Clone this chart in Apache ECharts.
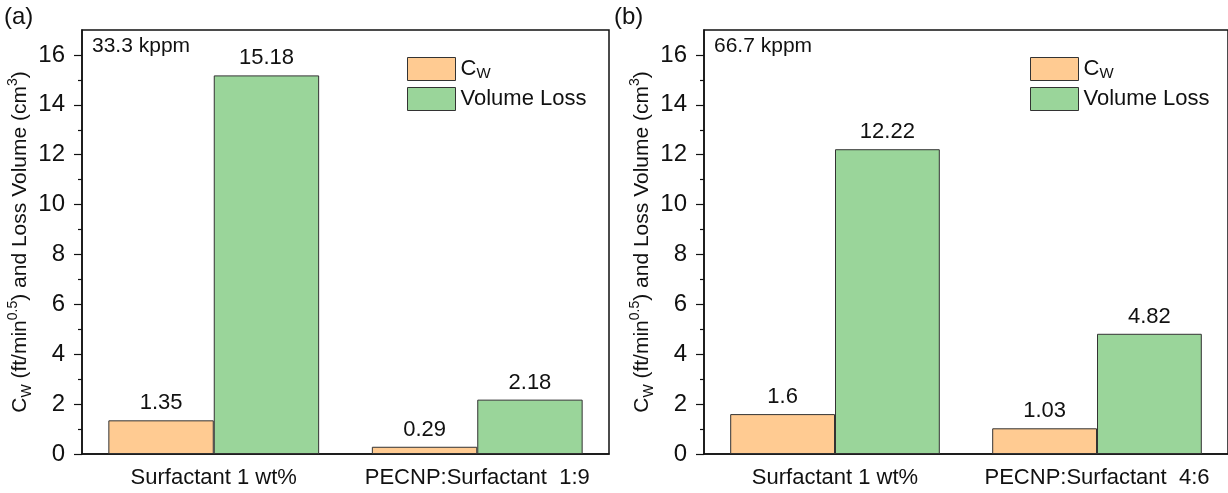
<!DOCTYPE html>
<html>
<head>
<meta charset="utf-8">
<script src="https://cdn.jsdelivr.net/npm/echarts@6/dist/echarts.min.js"></script>
<style>
  html, body { margin: 0; padding: 0; background: #fff; }
  #chart { width: 1228px; height: 493px; }
</style>
</head>
<body>
<div id="chart"></div>
<script>
// Categories and values for the two panels
const categoriesA = ['Surfactant 1 wt%', 'PECNP:Surfactant  1:9'];
const categoriesB = ['Surfactant 1 wt%', 'PECNP:Surfactant  4:6'];
const cwA = [1.35, 0.29];
const lossA = [15.18, 2.18];
const cwB = [1.6, 1.03];
const lossB = [12.22, 4.82];
const majorTicks = [0, 2, 4, 6, 8, 10, 12, 14, 16];
const minorTicks = [1, 3, 5, 7, 9, 11, 13, 15];
const panelNotes = ['33.3 kppm', '66.7 kppm'];
const panelTags = ['(a)', '(b)'];

const FONT = "'Liberation Sans', Arial, sans-serif";
const ORANGE = '#FFCB92';
const GREEN = '#9AD59A';
const EDGE = '#333';
const INK = '#111';

const chart = echarts.init(document.getElementById('chart'));

const grids = [
  { left: 82, top: 30, width: 527, height: 424 },
  { left: 704, top: 30, width: 527, height: 424 }
];

const nameRich = {
  n: { fontSize: 21, fontFamily: FONT, color: INK, lineHeight: 28, verticalAlign: 'middle' },
  sub: { fontSize: 14, fontFamily: FONT, color: INK, lineHeight: 28, verticalAlign: 'bottom' },
  sup: { fontSize: 14, fontFamily: FONT, color: INK, lineHeight: 28, verticalAlign: 'top' }
};

function xAxisFor(i, cats) {
  return {
    type: 'category', gridIndex: i, data: cats,
    axisLine: { lineStyle: { color: INK, width: 1.5 } },
    axisTick: { show: false },
    axisLabel: { interval: 0, fontSize: 22, fontFamily: FONT, color: INK, margin: 13 }
  };
}

function yAxesFor(i) {
  return [
    {
      type: 'value', gridIndex: i, min: 0, max: 17, position: 'left',
      name: '{n|C}{sub|W}{n| (ft/min}{sup|0.5}{n|) and Loss Volume (cm}{sup|3}{n|)}',
      nameLocation: 'middle', nameRotate: 90, nameGap: 45,
      nameTextStyle: { rich: nameRich },
      axisLine: { show: true, lineStyle: { color: INK, width: 1.5 } },
      axisTick: { show: true, length: 8, customValues: majorTicks, lineStyle: { color: INK, width: 1.2 } },
      axisLabel: { fontSize: 24, fontFamily: FONT, color: INK, margin: 17, customValues: majorTicks },
      splitLine: { show: false }
    },
    {
      type: 'value', gridIndex: i, min: 0, max: 17, position: 'left', offset: 0,
      axisLine: { show: false },
      axisTick: { show: true, length: 4, customValues: minorTicks, lineStyle: { color: INK, width: 1.2 } },
      axisLabel: { show: false },
      splitLine: { show: false }
    }
  ];
}

function barSeries(name, data, color, i) {
  return {
    type: 'bar', name: name, data: data,
    xAxisIndex: i, yAxisIndex: i * 2,
    barGap: '0%', barCategoryGap: '20%',
    itemStyle: { color: color, borderColor: EDGE, borderWidth: 1 },
    label: { show: true, position: 'top', distance: 6, fontSize: 22, fontFamily: FONT, color: INK },
    emphasis: { disabled: true }
  };
}

function legendFor(left) {
  return {
    orient: 'vertical', left: left, top: 57, padding: 0,
    itemWidth: 48, itemHeight: 23, itemGap: 6,
    icon: 'rect',
    itemStyle: { borderColor: EDGE, borderWidth: 1 },
    data: ['Cw', 'Volume Loss'],
    formatter: function (name) {
      return name === 'Cw' ? '{n|C}{sub|W}' : '{n|Volume Loss}';
    },
    textStyle: {
      rich: {
        n: { fontSize: 22, fontFamily: FONT, color: INK, lineHeight: 24 },
        sub: { fontSize: 15, fontFamily: FONT, color: INK, lineHeight: 24, verticalAlign: 'bottom' }
      }
    },
    selectedMode: false
  };
}

const option = {
  animation: false,
  backgroundColor: '#fff',
  grid: grids.map(g => Object.assign({ show: true, borderColor: INK, borderWidth: 1.5, backgroundColor: 'transparent' }, g)),
  xAxis: [xAxisFor(0, categoriesA), xAxisFor(1, categoriesB)],
  yAxis: yAxesFor(0).concat(yAxesFor(1)),
  legend: [legendFor(407), legendFor(1030)],
  series: [
    barSeries('Cw', cwA, ORANGE, 0),
    barSeries('Volume Loss', lossA, GREEN, 0),
    barSeries('Cw', cwB, ORANGE, 1),
    barSeries('Volume Loss', lossB, GREEN, 1)
  ],
  graphic: [
    { type: 'text', left: 92, top: 36, style: { text: panelNotes[0], fontSize: 21, fontFamily: FONT, fill: INK } },
    { type: 'text', left: 714, top: 36, style: { text: panelNotes[1], fontSize: 21, fontFamily: FONT, fill: INK } },
    { type: 'text', left: 4, top: 5, style: { text: panelTags[0], fontSize: 24, fontFamily: FONT, fill: INK } },
    { type: 'text', left: 614, top: 5, style: { text: panelTags[1], fontSize: 24, fontFamily: FONT, fill: INK } }
  ]
};

chart.setOption(option);
</script>
</body>
</html>
